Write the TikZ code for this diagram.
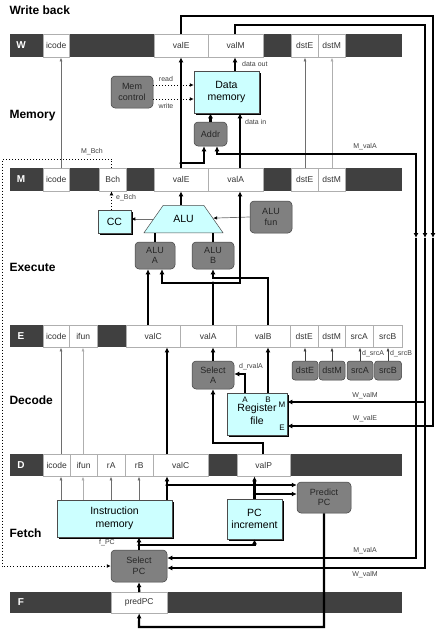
\documentclass[tikz,border=0pt]{standalone}
\usepackage{fontspec}
\setmainfont{Liberation Sans}
\usetikzlibrary{arrows.meta,positioning,shapes.geometric,shadows,calc}
\definecolor{bardark}{RGB}{64,64,64}
\definecolor{hwcyan}{RGB}{204,255,255}
\definecolor{ctlgray}{RGB}{128,128,128}
\definecolor{wiregray}{RGB}{110,110,110}
\definecolor{wirelight}{RGB}{175,175,175}
\tikzset{
  regbar/.style={fill=bardark, draw=none, anchor=north west, inner sep=0pt},
  regcell/.style={fill=white, draw=wirelight, line width=0.4pt, anchor=north west,
    inner sep=0pt, font=\fontsize{8.5}{10}\selectfont, text=black!80},
  reglbl/.style={font=\bfseries\fontsize{10}{12}\selectfont, text=white},
  stagelbl/.style={font=\bfseries\fontsize{12}{14}\selectfont, anchor=west},
  hwbox/.style={draw=black!70, fill=hwcyan, line width=0.5pt, align=center,
    inner sep=0pt, font=\fontsize{10.5}{12.5}\selectfont,
    drop shadow={shadow xshift=2pt, shadow yshift=-2pt, opacity=1, fill=black}},
  alubox/.style={trapezium, trapezium left angle=55, trapezium right angle=55,
    trapezium stretches body, draw=black!70, fill=hwcyan, line width=0.5pt,
    minimum width=79pt, inner xsep=2pt, inner ysep=10pt, text height=7.5pt,
    text depth=0pt, font=\fontsize{10.5}{12}\selectfont},
  ctlbox/.style={draw=black!75, fill=ctlgray, line width=0.5pt, rounded corners=4pt,
    align=center, inner sep=0pt, font=\fontsize{9}{10.5}\selectfont, text=black!85},
  sml/.style={font=\fontsize{7}{8}\selectfont, text=black!75, inner sep=0pt},
  port/.style={font=\fontsize{8}{9}\selectfont, inner sep=0pt},
  bus/.style={line width=2.2pt, -{Latex[length=5pt,width=5pt]}},
  wire/.style={line width=0.7pt, draw=wiregray, -{Latex[length=4pt,width=3pt]}},
  wirel/.style={wire, draw=wirelight},
  ctl/.style={line width=1pt, dotted, -{Latex[length=4pt,width=4pt]}},
  jdot/.style={circle, fill=black, inner sep=0pt, minimum size=3.5pt},
}

\begin{document}
\begin{tikzpicture}[x=1pt,y=-1pt]
  \useasboundingbox (0,0) rectangle (440,630);

  % stage names
  \node[stagelbl] (st-wb) at (6,10) {Write back};
  \node[stagelbl] (st-mem) at (6,116) {Memory};
  \node[stagelbl] (st-ex) at (6,267) {Execute};
  \node[stagelbl] (st-dec) at (6,400) {Decode};
  \node[stagelbl] (st-fet) at (6,533) {Fetch};

  % pipeline registers
  \node[regbar, minimum width=392pt, minimum height=23pt] (W) at (10,34) {};
  \node[reglbl] (W-lbl) at (21,45.5) {W};
  \foreach \xa/\xb/\nm in {43/69/icode,154/208/valE,208/263/valM,291/318/dstE,318/345/dstM}
    \node[regcell, minimum width={(\xb-\xa)*1pt}, minimum height=23pt] (W-\nm) at (\xa,34) {\nm};

  \node[regbar, minimum width=392pt, minimum height=23pt] (M) at (10,168) {};
  \node[reglbl] (M-lbl) at (21,179.5) {M};
  \foreach \xa/\xb/\nm in {43/69/icode,99/126/Bch,154/208/valE,208/263/valA,291/318/dstE,318/345/dstM}
    \node[regcell, minimum width={(\xb-\xa)*1pt}, minimum height=23pt] (M-\nm) at (\xa,168) {\nm};

  \node[regbar, minimum width=392pt, minimum height=22pt] (E) at (10,325) {};
  \node[reglbl] (E-lbl) at (21,336) {E};
  \foreach \xa/\xb/\nm in {43/69/icode,69/97/ifun,126/180/valC,180/236/valA,236/290/valB,
      290/318/dstE,318/345/dstM,345/373/srcA,373/402/srcB}
    \node[regcell, minimum width={(\xb-\xa)*1pt}, minimum height=22pt] (E-\nm) at (\xa,325) {\nm};

  \node[regbar, minimum width=392pt, minimum height=22pt] (D) at (10,454) {};
  \node[reglbl] (D-lbl) at (21,465) {D};
  \foreach \xa/\xb/\nm in {43/70/icode,70/97/ifun,97/125/rA,125/153/rB,153/208/valC,237/290/valP}
    \node[regcell, minimum width={(\xb-\xa)*1pt}, minimum height=22pt] (D-\nm) at (\xa,454) {\nm};

  \node[regbar, minimum width=392pt, minimum height=21pt] (F) at (10,592) {};
  \node[reglbl] (F-lbl) at (21,602.5) {F};
  \node[regcell, minimum width=56pt, minimum height=21pt] (F-predPC) at (111,592) {predPC};

  % hardware blocks
  \node[hwbox, minimum width=65pt, minimum height=42pt] (DataMem) at (226.5,92) {Data\\memory};
  \node[ctlbox, minimum width=42pt, minimum height=32pt] (MemCtrl) at (132,92) {Mem\\control};
  \node[ctlbox, minimum width=33pt, minimum height=24pt] (Addr) at (210.5,134) {Addr};
  \node[hwbox, minimum width=33pt, minimum height=23pt] (CC) at (114.5,221.5) {CC};
  \node[alubox] (ALU) at (183.5,219) {ALU};
  \node[ctlbox, minimum width=42pt, minimum height=32pt] (ALUfun) at (271,217) {ALU\\fun};
  \node[ctlbox, minimum width=40pt, minimum height=27pt] (ALUA) at (155,255.5) {ALU\\A};
  \node[ctlbox, minimum width=42pt, minimum height=27pt] (ALUB) at (213,255.5) {ALU\\B};
  \node[ctlbox, minimum width=42pt, minimum height=28pt] (SelA) at (213,375) {Select\\A};
  \node[hwbox, minimum width=60pt, minimum height=42pt] (RF) at (257,414) {Register\\file};
  \node[ctlbox, rounded corners=3pt, minimum width=26pt, minimum height=19pt] (dE) at (305,370.5) {dstE};
  \node[ctlbox, rounded corners=3pt, minimum width=26pt, minimum height=19pt] (dM) at (332,370.5) {dstM};
  \node[ctlbox, rounded corners=3pt, minimum width=26pt, minimum height=19pt] (sA) at (360,370.5) {srcA};
  \node[ctlbox, rounded corners=3pt, minimum width=27pt, minimum height=19pt] (sB) at (388,370.5) {srcB};
  \node[hwbox, minimum width=115pt, minimum height=37pt] (IM) at (114.5,518.5) {Instruction\\memory};
  \node[hwbox, minimum width=55pt, minimum height=40pt] (PCinc) at (254.5,519) {PC\\increment};
  \node[ctlbox, minimum width=54pt, minimum height=31pt] (PredPC) at (324,497.5) {Predict\\PC};
  \node[ctlbox, minimum width=56pt, minimum height=32pt] (SelPC) at (139,566) {Select\\PC};

  % register file ports
  \node[port] (p-A) at (245,400) {A};
  \node[port] (p-B) at (268,400) {B};
  \node[port] (p-M) at (282,405) {M};
  \node[port] (p-E) at (282,428) {E};

  % wire columns and rows
  \coordinate (c-left) at (2,0);   \coordinate (c-icode) at (61,0);
  \coordinate (c-ifun) at (83,0);  \coordinate (c-rA) at (111,0);
  \coordinate (c-bch) at (111.5,0); \coordinate (c-rB) at (139,0);
  \coordinate (c-aluA1) at (148,0); \coordinate (c-aluA2) at (162,0);
  \coordinate (c-valC) at (167,0); \coordinate (c-valE) at (181,0);
  \coordinate (c-addrL) at (204,0); \coordinate (c-valA) at (213,0);
  \coordinate (c-addrR) at (217,0); \coordinate (c-valM) at (235,0);
  \coordinate (c-mvalA) at (240,0); \coordinate (c-rfA) at (245,0);
  \coordinate (c-valP) at (263,0); \coordinate (c-valB) at (268,0);
  \coordinate (c-dstE) at (305,0); \coordinate (c-dstM) at (332,0);
  \coordinate (c-mvA) at (416,0);  \coordinate (c-wvM) at (425,0);
  \coordinate (c-wvE) at (433,0);
  \coordinate (r-wvE) at (0,16);   \coordinate (r-wvM) at (0,25);
  \coordinate (r-read) at (0,85);  \coordinate (r-write) at (0,99);
  \coordinate (r-mvalA) at (0,154); \coordinate (r-mbch) at (0,159);
  \coordinate (r-addrL) at (0,163); \coordinate (r-arrdn) at (0,238);
  \coordinate (r-valB) at (0,278); \coordinate (r-valA) at (0,283);
  \coordinate (r-rvalA) at (0,374); \coordinate (r-rfM) at (0,402);
  \coordinate (r-rfE) at (0,426);  \coordinate (r-valP) at (0,443);
  \coordinate (r-valCp) at (0,485); \coordinate (r-valPp) at (0,494);
  \coordinate (r-fPC) at (0,545);  \coordinate (r-spA) at (0,558);
  \coordinate (r-spM) at (0,568);  \coordinate (r-predPC) at (0,627);

  % write back
  \draw[wire] (c-icode |- M-icode.north) -- (c-icode |- W-icode.south);
  \draw[bus] (c-valE |- M-valE.north) -- (c-valE |- W-valE.south);
  \draw[bus] (c-valM |- DataMem.north) -- (c-valM |- W-valM.south);
  \draw[wire] (c-dstE |- M-dstE.north) -- (c-dstE |- W-dstE.south);
  \draw[wirel] (c-dstM |- M-dstM.north) -- (c-dstM |- W-dstM.south);
  \draw[bus] (c-valE |- W-valE.north) |- (c-wvE |- r-wvE) -- (c-wvE |- r-arrdn);
  \draw[bus] (c-wvE |- r-arrdn) |- (RF.east |- r-rfE);
  \draw[bus] (c-valM |- W-valM.north) |- (c-wvM |- r-wvM) -- (c-wvM |- r-arrdn);
  \draw[bus] (c-wvM |- r-arrdn) |- (SelPC.east |- r-spM);
  \draw[bus] (c-wvM |- r-rfM) -- (RF.east |- r-rfM);

  % memory
  \draw[bus] (c-mvalA |- M-valA.north) -- (c-mvalA |- DataMem.south);
  \draw[bus] (c-mvalA |- r-mvalA) -| (c-addrR |- Addr.south);
  \draw[bus] (c-mvalA |- r-mvalA) -- (c-mvA |- r-mvalA) -- (c-mvA |- r-arrdn);
  \draw[bus] (c-mvA |- r-arrdn) |- (SelPC.east |- r-spA);
  \draw[bus] (c-valE |- r-addrL) -| (c-addrL |- Addr.south);
  \draw[bus] (Addr.north) -- (Addr.north |- DataMem.south);
  \draw[ctl] (MemCtrl.east |- r-read) -- (DataMem.west |- r-read);
  \draw[ctl] (MemCtrl.east |- r-write) -- (DataMem.west |- r-write);
  \draw[ctl] (c-bch |- M-Bch.north) |- (c-left |- r-mbch) |- (SelPC.west);
  \node[jdot] (j-mvalA) at (c-mvalA |- r-mvalA) {};
  \node[jdot] (j-addrL) at (c-valE |- r-addrL) {};

  % execute
  \draw[bus] (c-valE |- ALU.north) -- (c-valE |- M-valE.south);
  \draw[ctl] (c-bch |- CC.north) -- (c-bch |- M-Bch.south);
  \draw[wire, -{Latex[length=4pt,width=3.5pt,color=black]}] (ALU.west) -- (ALU.west -| CC.east);
  \draw[wire, -{Latex[length=4pt,width=3.5pt,color=black]}] (ALUfun.west) -- (ALU);
  \draw[bus, -] (ALUA.north) -- (ALUA.north |- ALU.south);
  \draw[bus, -] (ALUB.north) -- (ALUB.north |- ALU.south);
  \draw[bus] (c-aluA1 |- E-valC.north) -- (c-aluA1 |- ALUA.south);
  \draw[bus, -] (c-valA |- E-valA.north) -- (c-valA |- r-valA);
  \draw[bus] (c-valA |- r-valA) -| (c-aluA2 |- ALUA.south);
  \draw[bus] (c-valA |- r-valA) -| (c-mvalA |- M-valA.south);
  \draw[bus] (c-valB |- E-valB.north) |- (c-valA |- r-valB) -- (c-valA |- ALUB.south);
  \node[jdot] (j-valA) at (c-valA |- r-valA) {};

  % decode
  \draw[wire] (c-icode |- D-icode.north) -- (c-icode |- E-icode.south);
  \draw[wirel] (c-ifun |- D-ifun.north) -- (c-ifun |- E-ifun.south);
  \draw[bus] (c-valC |- D-valC.north) -- (c-valC |- E-valC.south);
  \draw[bus] (SelA.north) -- (SelA.north |- E-valA.south);
  \draw[bus] (c-valB |- RF.north) -- (c-valB |- E-valB.south);
  \draw[bus] (c-rfA |- RF.north) |- (SelA.east |- r-rvalA);
  \draw[bus] (c-valP |- D-valP.north) |- (c-valA |- r-valP) -- (SelA.south);
  \foreach \bx/\cl in {dE/dstE,dM/dstM,sA/srcA,sB/srcB}
    \draw[wire, draw=black!75] (\bx.north) -- (\bx.north |- E-\cl.south);

  % fetch
  \draw[wire] (c-icode |- IM.north) -- (c-icode |- D-icode.south);
  \draw[wirel] (c-ifun |- IM.north) -- (c-ifun |- D-ifun.south);
  \draw[wire] (c-rA |- IM.north) -- (c-rA |- D-rA.south);
  \draw[wire] (c-rB |- IM.north) -- (c-rB |- D-rB.south);
  \draw[bus] (c-valC |- IM.north) -- (c-valC |- D-valC.south);
  \draw[bus] (c-valC |- r-valCp) -- (PredPC.west |- r-valCp);
  \draw[bus] (PCinc.north) -- (PCinc.north |- D-valP.south);
  \draw[bus] (PCinc.north |- r-valPp) -- (PredPC.west |- r-valPp);
  \draw[bus] (PredPC.south) |- (c-rB |- r-predPC) -- (F-predPC.south);
  \draw[bus] (F-predPC.north) -- (SelPC.south);
  \draw[bus] (SelPC.north) -- (SelPC.north |- IM.south);
  \draw[bus] (SelPC.north |- r-fPC) -| (PCinc.south);
  \node[jdot] (j-valC) at (c-valC |- r-valCp) {};
  \node[jdot] (j-valP) at (PCinc.north |- r-valPp) {};
  \node[jdot] (j-fPC) at (SelPC.north |- r-fPC) {};

  % signal names
  \node[sml, anchor=west] (l-dout) at (242,64) {data out};
  \node[sml, anchor=west] (l-din) at (245,122) {data in};
  \node[sml] (l-read) at (166,79) {read};
  \node[sml] (l-write) at (166,106) {write};
  \node[sml] (l-mbch) at (92,152) {M\_Bch};
  \node[sml, anchor=west] (l-ebch) at (116,198) {e\_Bch};
  \node[sml] (l-mvala1) at (365,147) {M\_valA};
  \node[sml] (l-rvala) at (251,367) {d\_rvalA};
  \node[sml, anchor=west] (l-dsrcA) at (362,354) {d\_srcA};
  \node[sml, anchor=west] (l-dsrcB) at (390,354) {d\_srcB};
  \node[sml] (l-wvalm1) at (365,396) {W\_valM};
  \node[sml] (l-wvale) at (365,419) {W\_valE};
  \node[sml] (l-fpc) at (107,543) {f\_PC};
  \node[sml] (l-mvala2) at (365,551) {M\_valA};
  \node[sml] (l-wvalm2) at (365,575) {W\_valM};
\end{tikzpicture}
\end{document}
